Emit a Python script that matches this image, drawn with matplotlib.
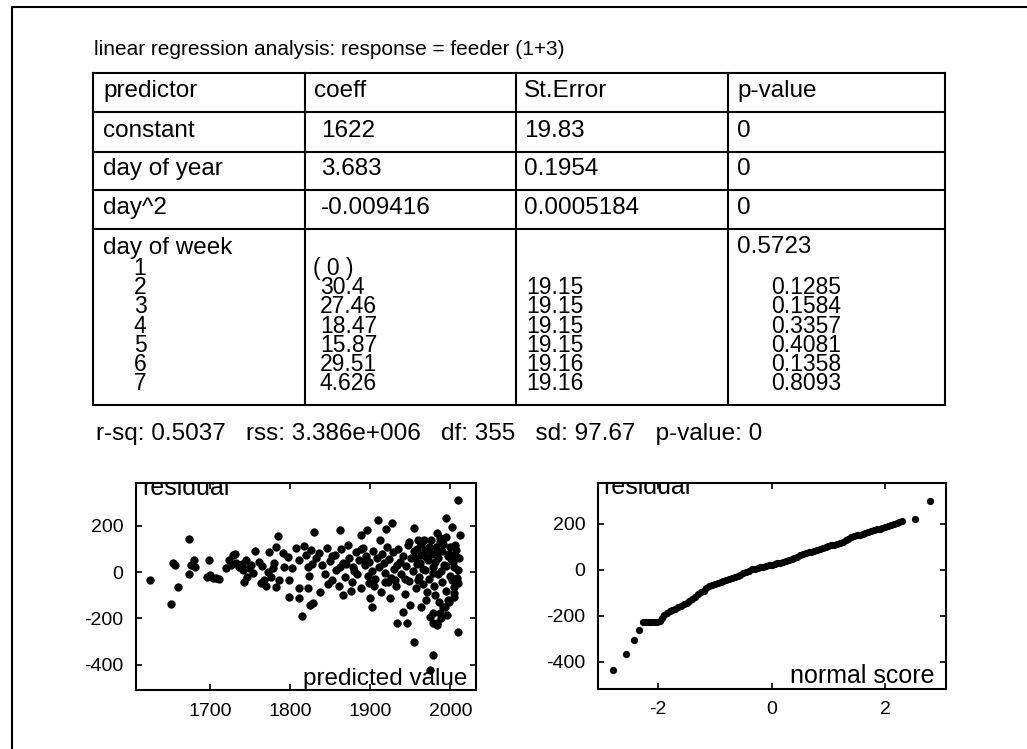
#!/usr/bin/env python3
# -*- coding: utf-8 -*-
# regression output page: coefficient table + two residual plots

import matplotlib
matplotlib.use('Agg')
import matplotlib.pyplot as plt

plt.rcParams['font.family'] = ['Liberation Sans', 'DejaVu Sans']
plt.rcParams['axes.unicode_minus'] = False   # scan uses plain hyphens

#%%
# table contents
title = 'linear regression analysis: response = feeder (1+3)'
headers = ['predictor', 'coeff', 'St.Error', 'p-value']
predictors = ['constant', 'day of year', 'day^2']
coeffs = ['1622', '3.683', '-0.009416']
std_errors = ['19.83', '0.1954', '0.0005184']
p_values = ['0', '0', '0']

# day of week block (level 1 is the baseline)
dow_levels = ['1', '2', '3', '4', '5', '6', '7']
dow_coeffs = ['( 0 )', '30.4', '27.46', '18.47', '15.87', '29.51', '4.626']
dow_std_errors = ['19.15', '19.15', '19.15', '19.15', '19.16', '19.16']
dow_p_values = ['0.1285', '0.1584', '0.3357', '0.4081', '0.1358', '0.8093']
dow_overall_p = '0.5723'

stats_line = 'r-sq: 0.5037   rss: 3.386e+006   df: 355   sd: 97.67   p-value: 0'

# residuals vs predicted value
predicted = [1626, 1652, 1654, 1657, 1660, 1676, 1674, 1674, 1680, 1682,
             1699, 1697, 1700, 1704, 1708, 1712, 1720, 1724, 1726, 1729,
             1732, 1733, 1736, 1740, 1741, 1743, 1745, 1747, 1749, 1751,
             1754, 1756, 1761, 1764, 1765, 1768, 1770, 1772, 1774, 1776,
             1779, 1780, 1782, 1785, 1782, 1786, 1791, 1793, 1797, 1799,
             1799, 1803, 1807, 1811, 1811, 1811, 1815, 1820, 1822, 1822,
             # sparse points, right half
             2010, 1995, 2002, 1910, 1927, 1920, 1955, 1863, 1830, 1896,
             1888, 1912, 1948, 1960, 1983, 1987, 2012, 2006, 2006, 2004,
             2009, 2002, 2009, 2004, 1997, 1991, 1987, 1983, 1979, 2010,
             1979, 1975, 1955, 1934, 1946, 1941, 1950, 1925, 1900, 1902,
             1866, 1898, 1829, 1825, 1922, 1931,
             # dense band
             1818, 1826, 1832, 1836, 1840, 1844, 1846, 1850, 1853, 1856,
             1858, 1861, 1864, 1866, 1869, 1872, 1874, 1877, 1879, 1882,
             1884, 1886, 1889, 1891, 1893, 1895, 1897, 1899, 1902, 1904,
             1906, 1908, 1911, 1913, 1915, 1917, 1919, 1921, 1924, 1926,
             1928, 1930, 1932, 1935, 1937, 1939, 1941, 1943, 1945, 1947,
             1949, 1951, 1953, 1955, 1957, 1959, 1961, 1963, 1964, 1966,
             1968, 1969, 1971, 1972, 1974, 1976, 1977, 1979, 1980, 1982,
             1984, 1985, 1987, 1989, 1990, 1992, 1994, 1995, 1997, 1999,
             2000, 2003, 2005, 2007, 2008, 2011, 1824, 1828, 1838, 1848,
             1862, 1876, 1888, 1905, 1918, 1933, 1944, 1958, 1967, 1973,
             1962, 1966, 1970, 1974, 1978, 1981, 1985, 1988, 1991, 1994,
             1998, 2001, 1956, 1960, 1852, 1870, 1880, 1895,
             # lower right band
             1981, 1986, 1993, 1998, 2004, 1970, 1964, 1978, 1988, 1996,
             1983, 1975]
residual = [-34, -138, 39, 30, -64, 30, 142, -9, 52, 22,
            52, -21, -12, -26, -26, -28, 17, 52, 30, 73,
            77, 40, 22, 35, 9, -43, 52, -20, 17, 30,
            -4, 90, 43, -47, 25, -34, -60, 0, 86, -20,
            17, 40, 108, 155, -64, -34, 82, 22, 65, -107,
            -34, 17, 103, 52, -112, -69, -189, 73, 22, -69,
            310, 232, 194, 224, 211, 185, 189, 181, 172, 181,
            159, 138, 129, 138, 168, 146, 159, 116, 73, 22,
            9, -34, -47, -90, -120, -150, -176, -219, -219, -258,
            -357, -425, -301, -219, -219, -172, -142, -112, -112, -150,
            -99, -47, -133, -142, -43, -34,
            112, 95, 60, 84, 30, -10, 102, 48, -35, 75,
            10, -60, 98, 40, -20, 115, 62, -45, 22, 88,
            -8, 50, -70, 105, 30, 70, -15, 45, 5, 92,
            -30, 60, 20, -85, 78, 38, -5, 110, 55, -25,
            85, 15, -60, 100, 45, -10, 70, -95, 25, 118,
            -40, 60, 5, 90, -70, 35, -20, 120, 75, -50,
            10, 95, -85, 50, -30, 140, 80, 20, -60, 110,
            -10, 60, 130, -45, 90, 30, -80, 150, 70, -15,
            110, 45, -65, 95, -25, 60, -15, 35, -85, -50,
            20, -80, 100, -60, -45, 30, -30, 100, 140, 110,
            40, 15, 65, 100, -5, 45, 85, 5, 120, 25,
            80, 55, 60, -35, 70, 35, 5, 55,
            -100, -130, -150, -130, -110, -120, -150, -175, -200, -185,
            -230, -195]

# residual vs normal score
normal_score = [-2.80, -2.57, -2.43, -2.33, -2.27, -2.22, -2.17, -2.12, -2.07, -2.02,
                -1.97, -1.93, -1.89, -1.85, -1.80, -1.75, -1.70, -1.65, -1.60, -1.55,
                -1.50, -1.45, -1.40, -1.35, -1.30, -1.25, -1.20, -1.15, -1.10, -1.05,
                -1.00, -0.95, -0.90, -0.85, -0.80, -0.75, -0.70, -0.65, -0.60, -0.55,
                -0.50, -0.45, -0.40, -0.35, -0.30, -0.25, -0.20, -0.15, -0.10, -0.05,
                0.00, 0.05, 0.10, 0.15, 0.20, 0.25, 0.30, 0.35, 0.40, 0.45,
                0.50, 0.55, 0.60, 0.65, 0.70, 0.75, 0.80, 0.85, 0.90, 0.95,
                1.00, 1.05, 1.10, 1.15, 1.20, 1.25, 1.30, 1.35, 1.40, 1.45,
                1.50, 1.55, 1.60, 1.65, 1.70, 1.75, 1.80, 1.85, 1.90, 1.95,
                2.00, 2.05, 2.10, 2.15, 2.20, 2.25, 2.30, 2.52, 2.78]
sorted_residual = [-434, -366, -305, -262, -228, -228, -228, -228, -226, -226,
                   -222, -210, -198, -188, -180, -174, -168, -162, -156, -150,
                   -144, -137, -128, -117, -106, -98, -90, -80, -72, -64,
                   -60, -56, -52, -48, -44, -40, -35, -30, -25, -20,
                   -14, -8, -3, 2, 6, 9, 12, 14, 17, 20,
                   22, 26, 29, 32, 36, 40, 44, 48, 52, 57,
                   63, 68, 72, 76, 80, 84, 88, 92, 96, 100,
                   104, 108, 110, 114, 118, 122, 128, 136, 142, 146,
                   150, 152, 156, 160, 164, 168, 172, 176, 180, 184,
                   186, 190, 194, 198, 204, 210, 214, 220, 300]

#%%
W, H = 1027, 749
fig = plt.figure(figsize=(W / 100, H / 100), dpi=100)

# background axes in pixel units for the page frame and the table
bg = fig.add_axes([0, 0, 1, 1])
bg.set_xlim(0, W)
bg.set_ylim(H, 0)
bg.axis('off')

# page frame (only top and left edges are visible in the scan)
bg.plot([12, 12, W], [H, 7, 7], color='black', lw=1.5)

fs = 17.5      # table / stats text
fs_dow = 16.5  # tightly stacked day-of-week lines
bg.text(94, 55, title, fontsize=15, va='baseline', ha='left')

col_edges = [93, 305, 516, 728, 945]
row_edges = [73, 112, 152, 190, 229, 405]
for x in col_edges:
    bg.plot([x, x], [row_edges[0], row_edges[-1]], color='black', lw=1.5)
for y in row_edges:
    bg.plot([col_edges[0], col_edges[-1]], [y, y], color='black', lw=1.5)

# header + simple rows
row_base = [97, 137, 175, 214]
col_text_x = [103, 314, 524, 737]
for j, h in enumerate(headers):
    bg.text(col_text_x[j], row_base[0], h, fontsize=fs, va='baseline')
for i in range(len(predictors)):
    yb = row_base[i + 1]
    bg.text(col_text_x[0], yb, predictors[i], fontsize=fs, va='baseline')
    bg.text(col_text_x[1] + 7, yb, coeffs[i], fontsize=fs, va='baseline')
    bg.text(col_text_x[2], yb, std_errors[i], fontsize=fs, va='baseline')
    bg.text(col_text_x[3], yb, p_values[i], fontsize=fs, va='baseline')

# day of week block
bg.text(col_text_x[0], 254, 'day of week', fontsize=fs, va='baseline')
bg.text(col_text_x[3], 253, dow_overall_p, fontsize=fs, va='baseline')
pitch = 19.2
for k in range(len(dow_levels)):
    yb = 275 + k * pitch
    bg.text(140, yb, dow_levels[k], fontsize=fs_dow, va='baseline', ha='center')
    bg.text(313 if k == 0 else 320, yb, dow_coeffs[k], fontsize=fs_dow, va='baseline')
    if k > 0:
        bg.text(526, yb, dow_std_errors[k - 1], fontsize=fs_dow, va='baseline')
        bg.text(771, yb, dow_p_values[k - 1], fontsize=fs_dow, va='baseline')

bg.text(96, 440, stats_line, fontsize=fs, va='baseline')


#%%
def residual_axes(box, xs, ys, ms):
    left, top, right, bottom = box
    ax = fig.add_axes([left / W, (H - bottom) / H, (right - left) / W, (bottom - top) / H])
    ax.plot(xs, ys, 'o', color='black', ms=ms, mew=0)
    for s in ax.spines.values():
        s.set_linewidth(1.5)
    ax.tick_params(direction='in', length=4, width=1.2, top=True, right=True,
                   labelsize=14, pad=9)
    ax.set_yticks([-400, -200, 0, 200])
    return ax


ax1 = residual_axes((136, 483, 476, 690), predicted, residual, 6)
ax1.set_xlim(1608, 2032)
ax1.set_ylim(-510, 385)
ax1.set_xticks([1700, 1800, 1900, 2000])
ax1.text(0.018, 0.94, 'residual', transform=ax1.transAxes, fontsize=18,
         va='baseline', clip_on=True)
ax1.text(0.974, 0.024, 'predicted value', transform=ax1.transAxes, fontsize=17.5,
         va='baseline', ha='right')

ax2 = residual_axes((598, 483, 946, 689), normal_score, sorted_residual, 5.2)
ax2.set_xlim(-3.06, 3.07)
ax2.set_ylim(-518, 378)
ax2.set_xticks([-2, 0, 2])
ax2.text(0.014, 0.945, 'residual', transform=ax2.transAxes, fontsize=18,
         va='baseline', clip_on=True)
ax2.text(0.968, 0.029, 'normal score', transform=ax2.transAxes, fontsize=18,
         va='baseline', ha='right')

fig.savefig('out.png', dpi=100)
